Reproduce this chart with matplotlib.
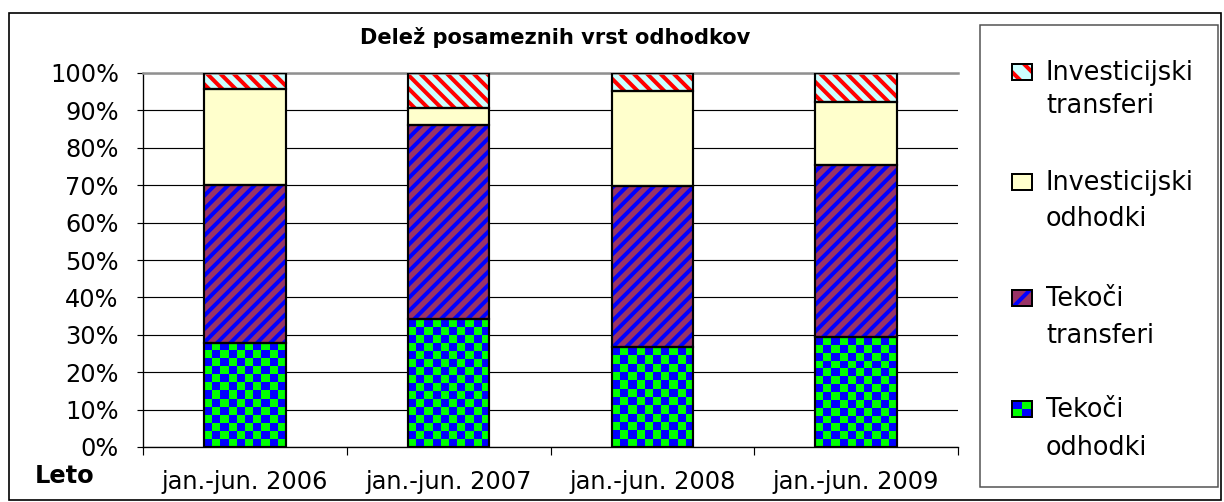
import numpy as np
import matplotlib
matplotlib.use("Agg")
import matplotlib.pyplot as plt
from matplotlib.patches import Rectangle

# values in % of total, bottom -> top
periods = ["jan.-jun. 2006", "jan.-jun. 2007", "jan.-jun. 2008", "jan.-jun. 2009"]
tekoci_odhodki = [27.9, 34.1, 26.7, 29.3]
tekoci_transferi = [42.1, 52.0, 43.2, 46.1]
invest_odhodki = [25.6, 4.6, 25.2, 16.9]
invest_transferi = [4.4, 9.3, 4.9, 7.7]
y_ticks = [0, 10, 20, 30, 40, 50, 60, 70, 80, 90, 100]

W, H, DPI = 1224, 502, 120
plt.rcParams["font.family"] = "DejaVu Sans"
plt.rcParams["hatch.linewidth"] = 2.4

fig = plt.figure(figsize=(W / DPI, H / DPI), dpi=DPI)


def fx(x):
    return x / W


def fy(y):
    return 1 - y / H


ax = fig.add_axes([fx(143), fy(447), (958 - 143) / W, (447 - 73) / H])
x = np.arange(len(periods))
bw = 0.40
blue, green = "#0000ff", "#00ff00"
hatch_up, hatch_down = "///", "\\\\\\"


def checker(ax, xc, bottom, height):
    nx = 10
    ny = max(1, int(round(height * 3.74 / 8.0)))
    img = (np.indices((ny, nx)).sum(axis=0) % 2)
    cmap = matplotlib.colors.ListedColormap([blue, green])
    ax.imshow(img, cmap=cmap, interpolation="nearest", aspect="auto",
              extent=(xc - bw / 2, xc + bw / 2, bottom, bottom + height),
              zorder=2)


# Tekoči odhodki - checkerboard
for i in range(len(periods)):
    checker(ax, x[i], 0, tekoci_odhodki[i])

bottom = np.array(tekoci_odhodki, dtype=float)
ax.bar(x, tekoci_transferi, bw, bottom=bottom, color="#993366",
       edgecolor=blue, hatch=hatch_up, linewidth=0, zorder=2)
bottom2 = bottom + np.array(tekoci_transferi)
ax.bar(x, invest_odhodki, bw, bottom=bottom2, color="#ffffcc",
       linewidth=0, zorder=2)
bottom3 = bottom2 + np.array(invest_odhodki)
ax.bar(x, invest_transferi, bw, bottom=bottom3, color="#ccffff",
       edgecolor="#ff0000", hatch=hatch_down, linewidth=0, zorder=2)

# black outlines of all segments
for vals, b in [(tekoci_odhodki, 0), (tekoci_transferi, bottom),
                (invest_odhodki, bottom2), (invest_transferi, bottom3)]:
    ax.bar(x, vals, bw, bottom=b, fill=False, edgecolor="black",
           linewidth=1.3, zorder=3)

ax.set_xlim(-0.5, len(periods) - 0.5)
ax.set_ylim(0, 100)
ax.set_axisbelow(True)
ax.set_yticks(y_ticks)
ax.set_yticklabels([f"{v}%" for v in y_ticks], fontsize=14.4)
ax.yaxis.grid(True, color="black", linewidth=0.7)
ax.tick_params(axis="y", direction="out", length=3.5, width=0.7, pad=11)

ax.set_xticks(np.arange(len(periods) + 1) - 0.5)
ax.set_xticklabels([])
ax.set_xticks(x, minor=True)
ax.set_xticklabels(periods, minor=True, fontsize=14.4)
ax.tick_params(axis="x", which="major", direction="out", length=4.5, width=0.7)
ax.tick_params(axis="x", which="minor", length=0, pad=14)

for s in ["left", "bottom"]:
    ax.spines[s].set_linewidth(0.8)
ax.spines["right"].set_visible(False)
ax.spines["top"].set_color("#909090")
ax.spines["top"].set_linewidth(1.5)

# title and axis label
fig.text(fx(555), fy(44), "Delež posameznih vrst odhodkov", fontsize=12.6,
         fontweight="bold", ha="center", va="baseline")
fig.text(fx(35), fy(483), "Leto", fontsize=14.5, fontweight="bold",
         ha="left", va="baseline")

# outer frame and legend box
fig.patches.append(Rectangle((fx(9), fy(500)), (1221 - 9) / W, (500 - 13) / H,
                             transform=fig.transFigure, fill=False,
                             edgecolor="black", linewidth=1.0))
fig.patches.append(Rectangle((fx(980), fy(487)), (1218 - 980) / W, (487 - 25) / H,
                             transform=fig.transFigure, fill=False,
                             edgecolor="#505050", linewidth=0.9))

legend_entries = [
    (("Investicijski", "transferi"), (80, 113), "inv_tr"),
    (("Investicijski", "odhodki"), (190, 226), "inv_odh"),
    (("Tekoči", "transferi"), (306, 343), "tek_tr"),
    (("Tekoči", "odhodki"), (417, 455), "tek_odh"),
]
mw, mh = 20, 16
for lines, (b1, b2), kind in legend_entries:
    mx, my = 1012, b1
    rect = (fx(mx), fy(my), mw / W, mh / H)
    if kind == "tek_odh":
        sub = fig.add_axes(rect)
        sub.imshow(np.array([[0, 1], [1, 0]]),
                   cmap=matplotlib.colors.ListedColormap([blue, green]),
                   interpolation="nearest", aspect="auto")
        sub.set_xticks([])
        sub.set_yticks([])
        for sp in sub.spines.values():
            sp.set_linewidth(1.2)
    else:
        style = {"inv_tr": dict(facecolor="#ccffff", edgecolor="#ff0000", hatch="\\\\"),
                 "inv_odh": dict(facecolor="#ffffcc", edgecolor="#ffffcc"),
                 "tek_tr": dict(facecolor="#993366", edgecolor=blue, hatch="//")}[kind]
        fig.patches.append(Rectangle(rect[:2], rect[2], rect[3],
                                     transform=fig.transFigure, linewidth=0,
                                     **style))
        fig.patches.append(Rectangle(rect[:2], rect[2], rect[3],
                                     transform=fig.transFigure, fill=False,
                                     edgecolor="black", linewidth=1.2))
    fig.text(fx(1046), fy(b1), lines[0], fontsize=15.3, ha="left", va="baseline")
    fig.text(fx(1046), fy(b2), lines[1], fontsize=15.3, ha="left", va="baseline")

fig.savefig("out.png", dpi=DPI)
